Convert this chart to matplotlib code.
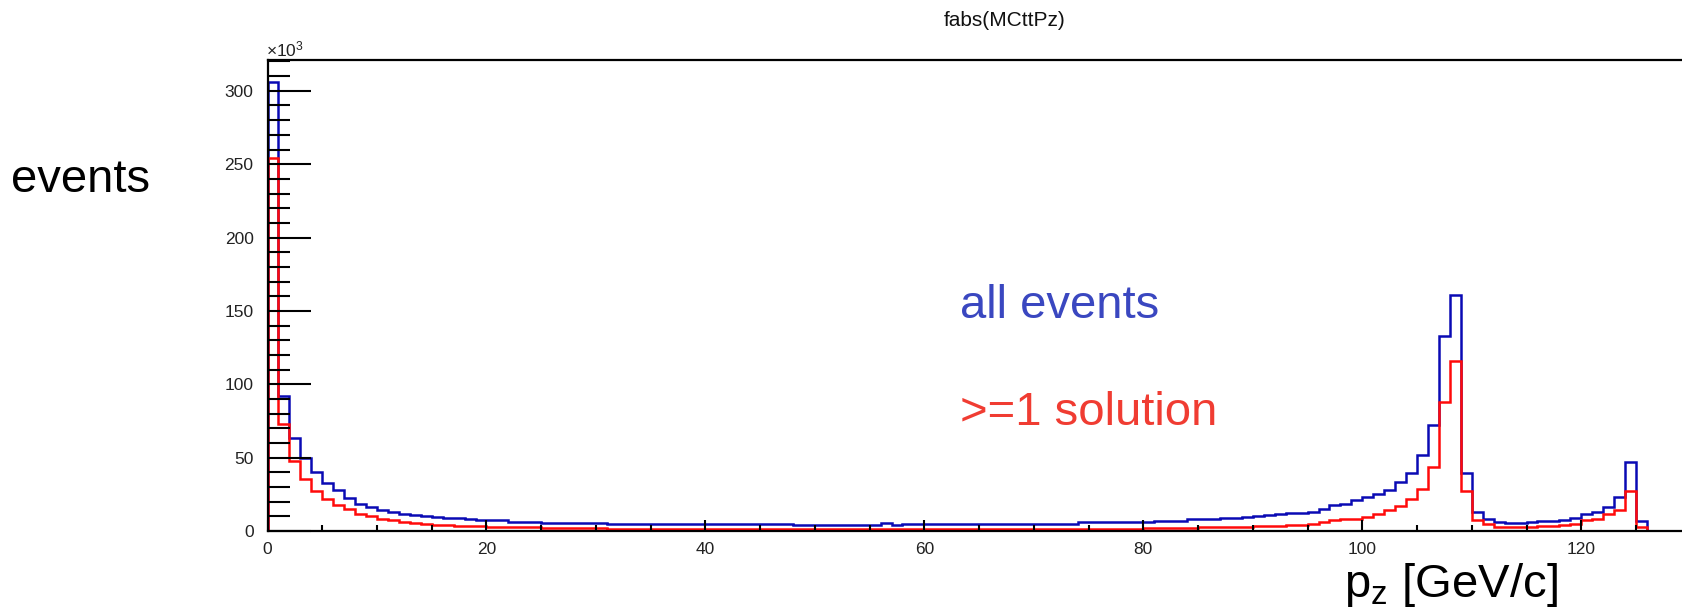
import numpy as np
import matplotlib
matplotlib.use("Agg")
import matplotlib.pyplot as plt
from matplotlib.ticker import MultipleLocator

plt.rcParams['font.family'] = ['Liberation Sans', 'DejaVu Sans']
plt.rcParams['mathtext.fontset'] = 'custom'
plt.rcParams['mathtext.rm'] = 'Liberation Sans'
plt.rcParams['mathtext.it'] = 'Liberation Sans:italic'

# histogram contents in units of 10^3 events, 1 GeV/c bins starting at 0
all_events = [
    306, 92, 63.5, 49.5, 40, 33, 28, 22.5, 18.5, 16.2,
    14.5, 12.8, 11.7, 10.6, 10.1, 9.7, 9.0, 8.6, 8.0, 7.7,
    7.5, 7.4, 6.2, 6.2, 6.2, 5.6, 5.6, 5.6, 5.6, 5.6,
    5.6, 4.8, 4.8, 4.8, 4.8, 4.8, 4.8, 4.8, 4.8, 4.8,
    4.8, 4.8, 4.8, 4.8, 4.8, 4.8, 4.8, 4.8, 4.2, 4.2,
    4.2, 4.2, 4.2, 4.2, 4.2, 4.2, 5.5, 4.3, 5.0, 5.0,
    5.0, 5.0, 5.0, 5.0, 5.0, 5.0, 5.0, 5.0, 5.0, 5.0,
    5.1, 5.1, 5.1, 5.1, 6.0, 6.0, 6.0, 6.0, 6.0, 6.0,
    6.2, 7.0, 7.0, 7.0, 8.0, 8.0, 8.0, 8.6, 9.0, 9.6,
    10.3, 11.0, 11.5, 12.0, 12.4, 13.2, 15.1, 17.4, 18.5, 20.8,
    23.0, 25.4, 28.1, 33.3, 39.4, 51.5, 72, 133, 160.6, 39.4,
    12.8, 8.0, 6.0, 5.6, 5.6, 5.8, 6.5, 7.0, 7.5, 8.8,
    11.3, 12.8, 16.2, 23.5, 47, 6.5, 0, 0, 0, 0,
]
one_solution = [
    254, 72.6, 48, 35.6, 27.6, 22, 18, 14.7, 11.7, 9.9,
    8.3, 7.2, 6.0, 5.3, 4.6, 4.2, 3.9, 3.6, 3.3, 3.1,
    3.0, 2.9, 2.5, 2.5, 2.4, 2.0, 2.0, 2.0, 2.0, 2.0,
    2.0, 1.7, 1.7, 1.7, 1.7, 1.7, 1.7, 1.7, 1.7, 1.7,
    1.6, 1.6, 1.6, 1.6, 1.6, 1.6, 1.6, 1.6, 1.6, 1.6,
    1.6, 1.6, 1.6, 1.6, 1.6, 1.6, 1.6, 1.6, 1.6, 1.6,
    1.6, 1.6, 1.6, 1.6, 1.6, 1.6, 1.6, 1.6, 1.6, 1.6,
    1.6, 1.6, 1.6, 1.6, 1.7, 1.7, 1.7, 1.7, 1.7, 1.7,
    2.0, 2.0, 2.0, 2.2, 2.2, 2.4, 2.4, 2.6, 2.8, 3.0,
    3.2, 3.4, 3.6, 4.0, 4.4, 4.9, 6.0, 7.2, 8.0, 8.5,
    9.4, 11.7, 14, 16.7, 22, 28.8, 43.5, 88, 116, 27.6,
    7.8, 4.6, 3.0, 3.0, 3.0, 3.0, 3.3, 3.5, 3.8, 5.0,
    7.2, 8.3, 11.3, 14, 27.6, 3.0, 0, 0, 0, 0,
]
bin_width = 1.0
edges = np.arange(len(all_events) + 1) * bin_width

fig = plt.figure(figsize=(16.82, 6.09), dpi=100)
ax = fig.add_axes([267.5 / 1682, 78 / 609, 1 - 267.5 / 1682, 471 / 609])

ax.stairs(all_events, edges, baseline=0, color='#0a0ab4', lw=1.8)
ax.stairs(one_solution, edges, baseline=0, color='#ff0a0a', lw=1.8)

ax.set_xlim(0, 129.2)
ax.set_ylim(0, 321)

ax.xaxis.set_major_locator(MultipleLocator(20))
ax.xaxis.set_minor_locator(MultipleLocator(5))
ax.yaxis.set_major_locator(MultipleLocator(50))
ax.yaxis.set_minor_locator(MultipleLocator(10))
ax.tick_params(axis='y', which='major', direction='in', length=31, width=1.5,
               labelsize=12.5, pad=10, colors='black', labelcolor='#222222')
ax.tick_params(axis='y', which='minor', direction='in', length=16, width=1.5)
ax.tick_params(axis='x', which='major', direction='in', length=8, width=1.5,
               labelsize=12.5, pad=8, labelcolor='#222222')
ax.tick_params(axis='x', which='minor', direction='in', length=4.5, width=1.5)

ax.spines['right'].set_visible(False)
for s in ['left', 'top', 'bottom']:
    ax.spines[s].set_linewidth(1.6)

fig.text(266 / 1682, 1 - 49 / 609, r'$\times$10$^{3}$', fontsize=12.5,
         color='#222222', ha='left', va='center')
fig.text(1005 / 1682, 1 - 20 / 609, 'fabs(MCttPz)', fontsize=15,
         ha='center', va='center', color='#111111')
fig.text(81 / 1682, 1 - 180 / 609, 'events', fontsize=34,
         ha='center', va='center')
fig.text(1344 / 1682, 1 - 585 / 609, r'p$_\mathrm{z}$ [GeV/c]', fontsize=34,
         ha='left', va='center')
fig.text(960 / 1682, 1 - 306 / 609, 'all events', fontsize=34,
         color='#3a47c0', ha='left', va='center')
fig.text(960 / 1682, 1 - 413 / 609, '>=1 solution', fontsize=34,
         color='#f03c32', ha='left', va='center')

fig.savefig('out.png', dpi=100)
